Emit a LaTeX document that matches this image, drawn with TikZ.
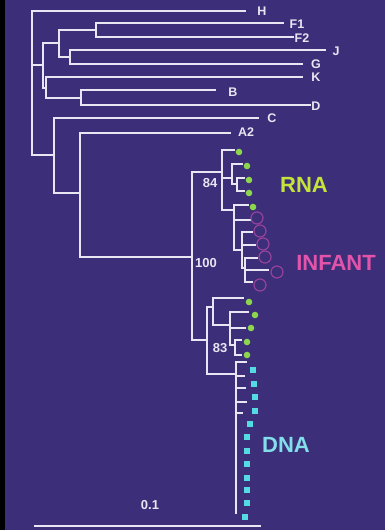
\documentclass[tikz,border=0pt]{standalone}
\usepackage{fontspec}
\setmainfont{Liberation Sans}
\definecolor{bgc}{RGB}{60,46,120}
\definecolor{linec}{RGB}{232,230,242}
\definecolor{rnadot}{RGB}{140,214,78}
\definecolor{rnatxt}{RGB}{196,228,60}
\definecolor{inftxt}{RGB}{226,84,170}
\definecolor{infcirc}{RGB}{150,66,156}
\definecolor{dnasq}{RGB}{84,218,226}
\definecolor{dnatxt}{RGB}{130,222,234}
\begin{document}
\begin{tikzpicture}[x=1pt,y=-1pt,
  br/.style={draw=linec, line width=1.6pt, line cap=rect},
  tip/.style={text=linec, font=\bfseries\fontsize{12.5}{12.5}\selectfont, inner sep=0pt},
  boot/.style={text=linec, font=\bfseries\fontsize{13}{13}\selectfont, inner sep=0pt},
  rdot/.style={fill=rnadot, draw=none},
  icirc/.style={draw=infcirc, line width=1.2pt},
  dsq/.style={fill=dnasq, draw=none, minimum size=6pt, inner sep=0pt},
  big/.style={font=\bfseries\fontsize{22}{22}\selectfont, inner sep=0pt}]
\useasboundingbox (0,0) rectangle (385,530);
\fill[bgc] (0,0) rectangle (385,530);
\fill[black] (0,0) rectangle (5,530);

% ---- outer tree ----
\draw[br] (32,11) -- (32,155);
\draw[br] (32,11) -- (245,11);
\draw[br] (32,65) -- (43,65);
\draw[br] (43,43) -- (43,88);
\draw[br] (43,43) -- (59,43);
\draw[br] (59,30) -- (59,57);
\draw[br] (59,30) -- (96,30);
\draw[br] (96,23) -- (96,37);
\draw[br] (96,23) -- (283,23);
\draw[br] (96,37) -- (293,37);
\draw[br] (59,57) -- (70,57);
\draw[br] (70,50) -- (70,64);
\draw[br] (70,50) -- (325,50);
\draw[br] (70,64) -- (302,64);
\draw[br] (43,88) -- (46,88);
\draw[br] (46,77) -- (46,98);
\draw[br] (46,77) -- (302,77);
\draw[br] (46,98) -- (81,98);
\draw[br] (81,90) -- (81,105);
\draw[br] (81,90) -- (215,90);
\draw[br] (81,105) -- (310,105);
\draw[br] (32,155) -- (54,155);
\draw[br] (54,118) -- (54,193);
\draw[br] (54,118) -- (258,118);
\draw[br] (54,193) -- (80,193);
\draw[br] (80,133) -- (80,257);
\draw[br] (80,133) -- (230,133);
\draw[br] (80,257) -- (192,257);
\draw[br] (192,172) -- (192,340);

% ---- upper clade (84) ----
\draw[br] (192,172) -- (222,172);
\draw[br] (222,150) -- (222,210);
\draw[br] (222,150) -- (234,150);
\draw[br] (222,178) -- (232,178);
\draw[br] (232,164) -- (232,184);
\draw[br] (232,164) -- (242,164);
\draw[br] (232,184) -- (237,184);
\draw[br] (237,178) -- (237,191);
\draw[br] (237,178) -- (244,178);
\draw[br] (237,191) -- (244,191);
\draw[br] (222,210) -- (234,210);
\draw[br] (234,205) -- (234,250);
\draw[br] (234,205) -- (248,205);
\draw[br] (234,220) -- (250,220);
\draw[br] (234,250) -- (242,250);
\draw[br] (242,232) -- (242,268);
\draw[br] (242,232) -- (252,232);
\draw[br] (242,245) -- (255,245);
\draw[br] (242,268) -- (245,268);
\draw[br] (245,258) -- (245,282);
\draw[br] (245,258) -- (257,258);
\draw[br] (245,270) -- (268,270);
\draw[br] (245,282) -- (252,282);

% ---- lower clade (83) ----
\draw[br] (192,340) -- (207,340);
\draw[br] (207,307) -- (207,374);
\draw[br] (207,307) -- (213,307);
\draw[br] (213,298) -- (213,325);
\draw[br] (213,298) -- (243,298);
\draw[br] (213,325) -- (230,325);
\draw[br] (230,312) -- (230,345);
\draw[br] (230,312) -- (248,312);
\draw[br] (230,328) -- (245,328);
\draw[br] (230,345) -- (235,345);
\draw[br] (235,340) -- (235,355);
\draw[br] (235,340) -- (241,340);
\draw[br] (235,355) -- (241,355);
\draw[br] (207,374) -- (236,374);
\draw[br] (236,362) -- (236,513);
\draw[br] (236,362) -- (246,362);
\draw[br] (236,376) -- (244,376);
\draw[br] (236,388) -- (245,388);
\draw[br] (236,402) -- (246,402);
\draw[br] (236,413) -- (242,413);

% ---- markers ----
\foreach \p in {(239,152),(247,166),(249,180),(249,193),(253,207),(249,302),(255,315),(251,328),(247,342),(247,355)}
  \fill[rdot] \p circle (3.3);
\foreach \p in {(257,218),(260,231),(263,244),(265,257),(277,272),(260,285)}
  \draw[icirc] \p circle (6);
\foreach \p [count=\i] in {(253,370),(254,384),(255,397),(255,411),(250,424),(247,437),(247,451),(247,464),(247,478),(247,490),(247,503),(245,517)}
  \node[dsq] (sq\i) at \p {};

% ---- tip labels ----
\node[tip] (lH) at (262,11) {H};
\node[tip] (lF1) at (297,24) {F1};
\node[tip] (lF2) at (302,38) {F2};
\node[tip] (lJ) at (336,51) {J};
\node[tip] (lG) at (316,64) {G};
\node[tip] (lK) at (316,77) {K};
\node[tip] (lB) at (233,92) {B};
\node[tip] (lD) at (316,106) {D};
\node[tip] (lC) at (272,118) {C};
\node[tip] (lA2) at (246,132) {A2};

% ---- bootstrap ----
\node[boot] (b84) at (210,183) {84};
\node[boot] (b100) at (206,263) {100};
\node[boot] (b83) at (220,348) {83};

% ---- group labels ----
\node[big, text=rnatxt] (rna) at (304,185) {RNA};
\node[big, text=inftxt] (inf) at (336,263) {INFANT};
\node[big, text=dnatxt] (dna) at (286,445) {DNA};

% ---- scale ----
\draw[br] (35,526) -- (260,526);
\node[boot] (scl) at (150,505) {0.1};
\end{tikzpicture}
\end{document}
